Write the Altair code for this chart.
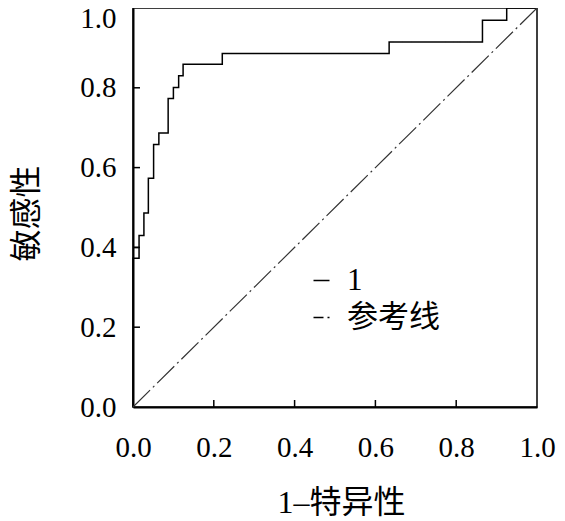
import altair as alt
import pandas as pd

# ROC curve vertices (1 - specificity, sensitivity)
fpr = [0, 0, 0.015, 0.015, 0, 0.015, 0.015, 0.027, 0.027, 0.038, 0.038, 0.051,
       0.051, 0.064, 0.064, 0.087, 0.087, 0.100, 0.100, 0.113, 0.113, 0.124,
       0.124, 0.221, 0.221, 0.634, 0.634, 0.865, 0.865, 0.925, 0.925, 1.0]
tpr = [0, 0.373, 0.373, 0.40, 0.40, 0.40, 0.430, 0.430, 0.486, 0.486, 0.573,
       0.573, 0.658, 0.658, 0.687, 0.687, 0.773, 0.773, 0.801, 0.801, 0.830,
       0.830, 0.859, 0.859, 0.886, 0.886, 0.915, 0.915, 0.969, 0.969, 1.0, 1.0]

# reference (chance) line
ref_x = [0.0, 1.0]
ref_y = [0.0, 1.0]

series_names = ["1", "参考线"]
tick_values = [0.0, 0.2, 0.4, 0.6, 0.8, 1.0]
inner_ticks = [0.2, 0.4, 0.6, 0.8]

W, H = 404, 399
SERIF = "Liberation Serif, Noto Sans CJK SC"

roc = pd.DataFrame({"x": fpr, "y": tpr, "s": series_names[0], "i": list(range(len(fpr)))})
ref = pd.DataFrame({"x": ref_x, "y": ref_y, "s": series_names[1], "i": [0, 1]})
ticks_df = pd.DataFrame({"x": inner_ticks, "y": inner_ticks})

xscale = alt.Scale(domain=[0, 1], nice=False, zero=False)
yscale = alt.Scale(domain=[0, 1], nice=False, zero=False)
dash_scale = alt.Scale(domain=series_names, range=[[1, 0], [24, 4, 2, 4]])

xaxis = alt.Axis(
    values=tick_values, format=".1f", ticks=False, tickSize=0, grid=False,
    labelFlush=False, labelOverlap=False,
    labelPadding=26, labelFont=SERIF, labelFontSize=29, labelColor="black",
    domainColor="black", domainWidth=2,
    title="1–特异性", titleFont=SERIF, titleFontSize=32, titleFontWeight="normal",
    titleColor="black", titleX=208, titleY=95, titleBaseline="middle",
)
yaxis = alt.Axis(
    values=tick_values, format=".1f", ticks=False, tickSize=0, grid=False,
    labelFlush=False, labelOverlap=False,
    labelPadding=17, labelFont=SERIF, labelFontSize=29, labelColor="black",
    labelOffset={"condition": {"test": "datum.value == 1", "value": 10}, "value": 0},
    domainColor="black", domainWidth=2,
    title="敏感性", titleFont=SERIF, titleFontSize=32, titleFontWeight="normal",
    titleColor="black", titleX=-107, titleY=205, titleBaseline="middle",
)

legend = alt.Legend(
    title=None, orient="none", legendX=173, legendY=257,
    symbolType="stroke", symbolSize=256, symbolStrokeWidth=1.5,
    symbolStrokeColor="black", symbolDashOffset=14,
    labelFont=SERIF, labelFontSize=31, labelColor="black", labelOffset=10,
    rowPadding=5, padding=0,
)

roc_line = alt.Chart(roc).mark_line(color="black", strokeWidth=1.5).encode(
    x=alt.X("x:Q", scale=xscale, axis=xaxis),
    y=alt.Y("y:Q", scale=yscale, axis=yaxis),
    strokeDash=alt.StrokeDash("s:N", scale=dash_scale, legend=legend),
    order=alt.Order("i:Q"),
)

ref_line = alt.Chart(ref).mark_line(color="#333333", strokeWidth=1.2).encode(
    x=alt.X("x:Q", scale=xscale, axis=xaxis),
    y=alt.Y("y:Q", scale=yscale, axis=yaxis),
    strokeDash=alt.StrokeDash("s:N", scale=dash_scale, legend=legend),
    order=alt.Order("i:Q"),
)

xticks = alt.Chart(ticks_df).mark_rule(color="black", strokeWidth=1.5).encode(
    x=alt.X("x:Q", scale=xscale, axis=xaxis),
    y=alt.value(H), y2=alt.value(H - 7),
)
yticks = alt.Chart(ticks_df).mark_rule(color="black", strokeWidth=1.5).encode(
    y=alt.Y("y:Q", scale=yscale, axis=yaxis),
    x=alt.value(0), x2=alt.value(7),
)

chart = alt.layer(roc_line, ref_line, xticks, yticks).properties(
    width=W, height=H,
    background="white",
    autosize=alt.AutoSizeParams(type="none"),
    padding={"left": 125, "top": 0, "right": 20, "bottom": 114},
).configure_view(stroke="black", strokeWidth=1.5)

chart.save("out.html", embed_options={"renderer": "svg", "actions": False})
